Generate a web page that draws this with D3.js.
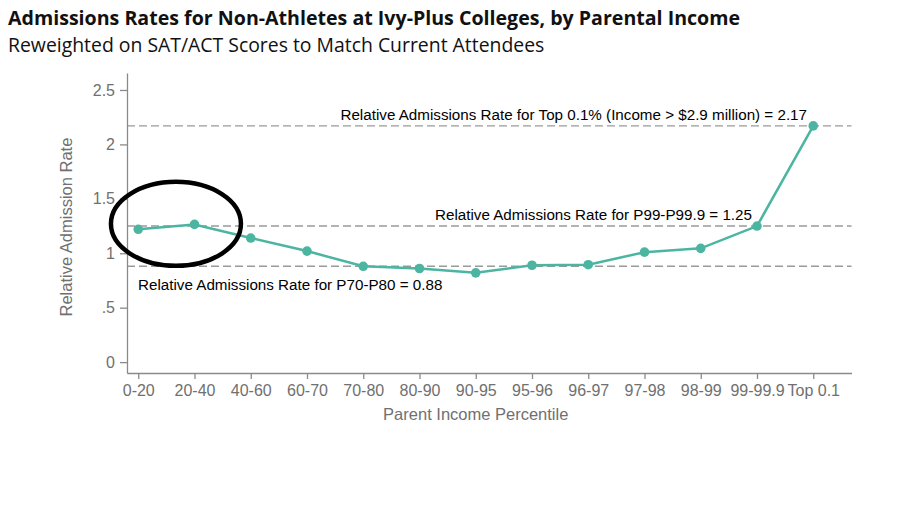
<!DOCTYPE html>
<html>
<head>
<meta charset="utf-8">
<script src="https://cdn.jsdelivr.net/npm/d3@7"></script>
<style>
  body { margin: 0; background: #fff; }
  svg { display: block; }
  .axis text { font-family: "Liberation Sans", Arial, sans-serif; font-size: 16px; fill: #707070; }
  .axis path, .axis line { stroke: #8a8a8a; stroke-width: 1.3; }
</style>
</head>
<body>
<svg id="chart" width="908" height="508"></svg>
<script>
const categories = ["0-20", "20-40", "40-60", "60-70", "70-80", "80-90", "90-95",
  "95-96", "96-97", "97-98", "98-99", "99-99.9", "Top 0.1"];
const rates = [1.22, 1.265, 1.14, 1.02, 0.88, 0.86, 0.82, 0.89, 0.895, 1.01, 1.045, 1.25, 2.17];
const yTicks = [0, 0.5, 1, 1.5, 2, 2.5];
const yTickLabels = ["0", ".5", "1", "1.5", "2", "2.5"];
const refValues = [2.17, 1.25, 0.88];
const refLabels = [
  "Relative Admissions Rate for Top 0.1% (Income > $2.9 million) = 2.17",
  "Relative Admissions Rate for P99-P99.9 = 1.25",
  "Relative Admissions Rate for P70-P80 = 0.88"
];

const svg = d3.select("#chart");
const teal = "#4bb5a1";

// plot frame
const x = d3.scaleLinear().domain([-0.2, 12.68]).range([127, 851.5]);
const y = d3.scaleLinear().domain([-0.1, 2.656]).range([373, 73]);

// titles
svg.append("text")
  .attr("x", 8).attr("y", 25)
  .style("font-family", "'Open Sans', sans-serif")
  .style("font-weight", 700)
  .style("font-size", "19.6px")
  .attr("fill", "#111")
  .text("Admissions Rates for Non-Athletes at Ivy-Plus Colleges, by Parental Income");

svg.append("text")
  .attr("x", 8).attr("y", 51.5)
  .style("font-family", "'Open Sans', sans-serif")
  .style("font-size", "19.4px")
  .attr("fill", "#111")
  .text("Reweighted on SAT/ACT Scores to Match Current Attendees");

// reference lines
svg.append("g").selectAll("line")
  .data(refValues)
  .join("line")
  .attr("x1", x.range()[0]).attr("x2", x.range()[1])
  .attr("y1", d => y(d)).attr("y2", d => y(d))
  .attr("stroke", "#9a9a9a")
  .attr("stroke-width", 1.4)
  .attr("stroke-dasharray", "8,4");

const labelG = svg.append("g")
  .style("font-family", "'Liberation Sans', Arial, sans-serif")
  .style("font-size", "15.2px")
  .attr("fill", "#000");
labelG.append("text")
  .attr("x", 807).attr("y", y(refValues[0]) - 6)
  .attr("text-anchor", "end").text(refLabels[0]);
labelG.append("text")
  .attr("x", 752).attr("y", y(refValues[1]) - 6)
  .attr("text-anchor", "end").text(refLabels[1]);
labelG.append("text")
  .attr("x", 138).attr("y", y(refValues[2]) + 24)
  .attr("text-anchor", "start").text(refLabels[2]);

// axes
const yAxis = d3.axisLeft(y).tickValues(yTicks)
  .tickFormat((d, i) => yTickLabels[i]).tickSize(7).tickPadding(5).tickSizeOuter(0);
svg.append("g").attr("class", "axis")
  .attr("transform", `translate(${x.range()[0]},0)`)
  .call(yAxis);

const xAxis = d3.axisBottom(x).tickValues(d3.range(categories.length))
  .tickFormat(i => categories[i]).tickSize(6).tickPadding(6).tickSizeOuter(0);
svg.append("g").attr("class", "axis")
  .attr("transform", `translate(0,${y.range()[0]})`)
  .call(xAxis);

svg.append("text")
  .attr("transform", `translate(72,${(y(0) + y(2.5)) / 2 + 1}) rotate(-90)`)
  .attr("text-anchor", "middle")
  .style("font-family", "'Liberation Sans', Arial, sans-serif")
  .style("font-size", "16.5px")
  .attr("fill", "#707070")
  .text("Relative Admission Rate");

svg.append("text")
  .attr("x", (x(0) + x(12)) / 2).attr("y", 420)
  .attr("text-anchor", "middle")
  .style("font-family", "'Liberation Sans', Arial, sans-serif")
  .style("font-size", "16.5px")
  .attr("fill", "#707070")
  .text("Parent Income Percentile");

// series
const line = d3.line().x((d, i) => x(i)).y(d => y(d));
svg.append("path")
  .datum(rates)
  .attr("d", line)
  .attr("fill", "none")
  .attr("stroke", teal)
  .attr("stroke-width", 2.5);

svg.append("g").selectAll("circle")
  .data(rates)
  .join("circle")
  .attr("cx", (d, i) => x(i))
  .attr("cy", d => y(d))
  .attr("r", 4.8)
  .attr("fill", teal);

// hand-drawn highlight around the bottom two groups
svg.append("ellipse")
  .attr("cx", x(0.67)).attr("cy", y(1.27))
  .attr("rx", 65).attr("ry", 42)
  .attr("fill", "none")
  .attr("stroke", "#000")
  .attr("stroke-width", 4.5);
</script>
</body>
</html>
